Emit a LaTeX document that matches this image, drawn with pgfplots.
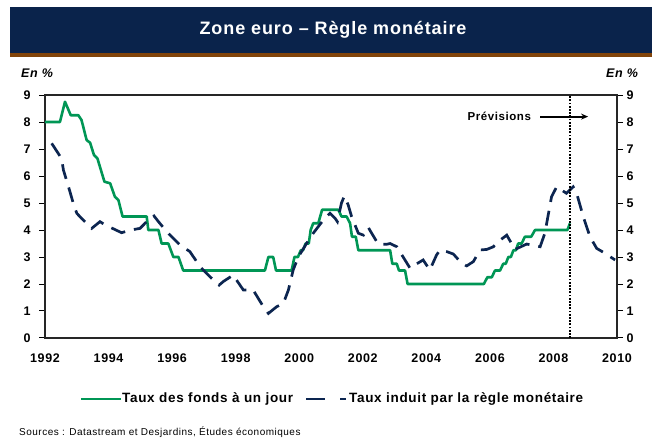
\documentclass[border=0pt]{standalone}
\usepackage{fontspec}
\setmainfont{Liberation Sans}[LetterSpace=5]
\usepackage{pgfplots}
\pgfplotsset{compat=1.18}
\usetikzlibrary{arrows.meta}
\definecolor{banner}{RGB}{10,35,75}
\definecolor{brownbar}{RGB}{130,68,10}
\definecolor{lgreen}{RGB}{0,150,85}
\definecolor{lnavy}{RGB}{12,37,80}
\begin{document}
\begin{tikzpicture}[x=1pt,y=1pt]
\useasboundingbox (0,0) rectangle (652,441);
\fill[banner] (10,388) rectangle (652,434);
\fill[brownbar] (10,384) rectangle (652,388);
\node[text=white,font=\bfseries\fontsize{18}{18}\selectfont] at (333,411) {Zone euro – Règle monétaire};
\node[font=\bfseries\itshape\fontsize{12.5}{12.5}\selectfont] at (37,368) {En \%};
\node[font=\bfseries\itshape\fontsize{12.5}{12.5}\selectfont] at (622,368) {En \%};

\begin{axis}[at={(45pt,103pt)}, anchor=south west, width=572pt, height=243pt, scale only axis,
  xmin=1992, xmax=2010, ymin=0, ymax=9,
  xtick={1992,1994,...,2010}, ytick={0,1,...,9},
  tick align=outside, major tick length=6pt,
  xtick style={draw=none}, ytick style={line width=1pt, black},
  ytick pos=left, xtick pos=bottom,
  axis line style={line width=1.2pt, black!85},
  ticklabel style={font=\bfseries\fontsize{12.5}{12.5}\selectfont},
  xticklabel style={yshift=-6pt}, yticklabel style={xshift=-5pt},
  /pgf/number format/assume math mode=true, /pgf/number format/1000 sep={},
  clip=false]
\addplot[lgreen, line width=2.6pt, line join=round] coordinates {
(1992.0,8.0) (1992.47,8.0) (1992.63,8.75) (1992.81,8.25) (1993.05,8.25) (1993.15,8.07)
(1993.31,7.33) (1993.42,7.23) (1993.54,6.78) (1993.65,6.65) (1993.87,5.79) (1994.05,5.73)
(1994.2,5.23) (1994.31,5.11) (1994.44,4.5) (1995.2,4.5) (1995.25,4.0) (1995.57,4.0)
(1995.67,3.5) (1995.88,3.5) (1996.04,3.0) (1996.2,3.0) (1996.35,2.5) (1998.92,2.5)
(1999.03,3.0) (1999.18,3.0) (1999.27,2.5) (1999.76,2.5) (1999.85,3.0) (1999.96,3.0)
(2000.05,3.25) (2000.12,3.25) (2000.2,3.5) (2000.3,3.5) (2000.36,4.0) (2000.44,4.25)
(2000.6,4.25) (2000.72,4.75) (2001.23,4.75) (2001.33,4.5) (2001.49,4.5) (2001.6,4.25)
(2001.66,3.75) (2001.78,3.75) (2001.86,3.25) (2002.86,3.25) (2002.93,2.75) (2003.07,2.75)
(2003.14,2.5) (2003.33,2.5) (2003.41,2.0) (2005.81,2.0) (2005.92,2.25) (2006.06,2.25)
(2006.16,2.5) (2006.32,2.5) (2006.42,2.75) (2006.5,2.75) (2006.58,3.0) (2006.66,3.0)
(2006.74,3.25) (2006.82,3.25) (2006.89,3.5) (2007.0,3.5) (2007.1,3.75) (2007.3,3.75)
(2007.42,4.0) (2008.44,4.0) (2008.52,4.25)
};
\addplot[lnavy, line width=2.7pt, dash pattern=on 15pt off 9pt] coordinates {
(1992.21,7.21) (1992.52,6.65) (1992.58,6.22) (1992.77,5.48) (1992.89,4.99) (1993.0,4.62)
(1993.15,4.43) (1993.47,4.06) (1993.73,4.31) (1993.89,4.19) (1994.41,3.9) (1994.7,4.0)
(1994.99,4.06) (1995.3,4.43) (1995.43,4.52) (1995.57,4.31) (1995.83,3.94) (1996.25,3.44)
(1996.56,3.2) (1996.88,2.64) (1997.19,2.27) (1997.48,1.96) (1997.61,2.09) (1997.92,2.33)
(1998.24,1.78) (1998.55,1.78) (1998.87,1.16) (1999.03,0.91) (1999.29,1.16) (1999.5,1.28)
(1999.66,1.78) (1999.81,2.52) (1999.97,3.0) (2000.23,3.5) (2000.44,3.88) (2000.76,4.37)
(2000.97,4.62) (2001.13,4.43) (2001.2,4.31) (2001.33,5.0) (2001.42,5.26) (2001.54,4.93)
(2001.65,4.49) (2001.86,3.88) (2002.02,3.81) (2002.17,4.1) (2002.28,3.88) (2002.49,3.47)
(2002.75,3.47) (2002.86,3.5) (2003.07,3.38) (2003.27,3.0) (2003.49,2.58) (2003.7,2.75)
(2003.9,2.89) (2004.11,2.52) (2004.32,3.07) (2004.43,3.26) (2004.64,3.2) (2004.85,3.11)
(2005.11,2.77) (2005.27,2.67) (2005.48,2.83) (2005.69,3.26) (2005.9,3.28) (2006.11,3.38)
(2006.26,3.57) (2006.53,3.81) (2006.79,3.28) (2007.16,3.48) (2007.58,3.38) (2007.73,3.88)
(2007.94,5.23) (2008.1,5.6) (2008.41,5.36) (2008.62,5.6) (2008.73,5.36) (2008.94,4.49)
(2009.15,3.75) (2009.36,3.32) (2009.62,3.14) (2009.94,2.89)
};
\draw[black, line width=2.6pt, dash pattern=on 1.7pt off 1.5pt] (axis cs:2008.52,0) -- (axis cs:2008.52,9);
\draw[black, line width=1.8pt, -{Stealth[length=7pt,width=6pt]}] (axis cs:2007.58,8.2) -- (axis cs:2009.09,8.2);
\node[anchor=east, font=\bfseries\fontsize{11.5}{11.5}\selectfont, inner sep=1pt] at (axis cs:2007.33,8.2) {Prévisions};
\end{axis}
\begin{axis}[at={(45pt,103pt)}, anchor=south west, width=572pt, height=243pt, scale only axis,
  xmin=1992, xmax=2010, ymin=0, ymax=9,
  axis x line=none, axis y line*=right, ytick={0,1,...,9},
  tick align=outside, major tick length=6pt, ytick style={line width=1pt, black},
  axis line style={line width=1.2pt, black!85},
  ticklabel style={font=\bfseries\fontsize{12.5}{12.5}\selectfont},
  /pgf/number format/assume math mode=true]
\end{axis}

\draw[lgreen, line width=2.6pt] (81,42) -- (121,42);
\node[anchor=west, font=\bfseries\fontsize{13.5}{13.5}\selectfont, inner sep=1pt] at (121,42) {Taux des fonds à un jour};
\draw[lnavy, line width=2.6pt, dash pattern=on 19pt off 15pt on 6pt] (306,42) -- (346,42);
\node[anchor=west, font=\bfseries\fontsize{13.5}{13.5}\selectfont, inner sep=1pt] at (348,42) {Taux induit par la règle monétaire};
\node[anchor=west, font=\fontsize{10}{10}\selectfont, inner sep=0pt] at (19,9) {Sources : Datastream et Desjardins, Études économiques};
\end{tikzpicture}
\end{document}
